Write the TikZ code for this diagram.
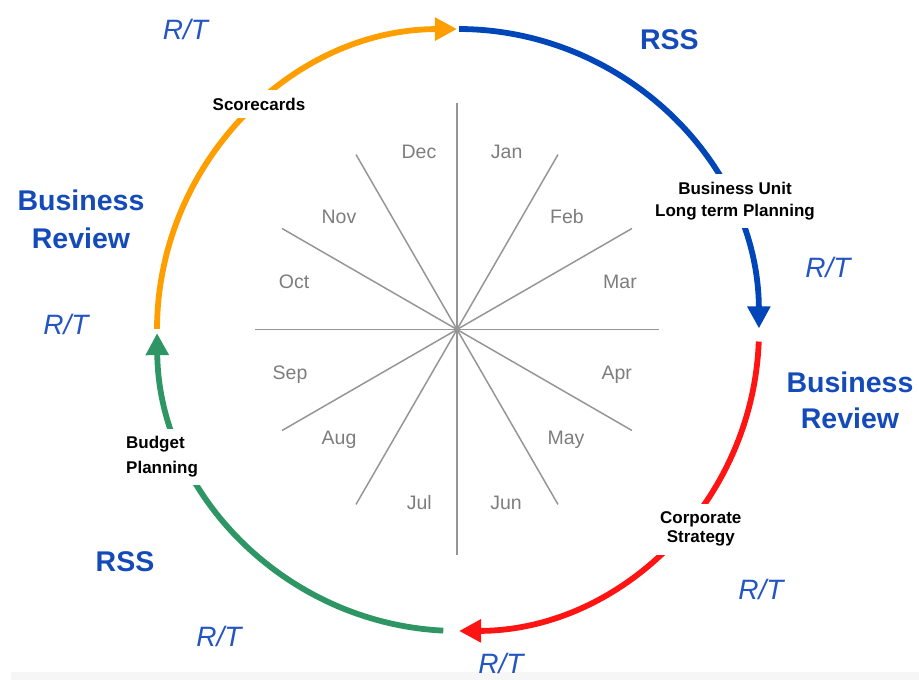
\documentclass[tikz,border=0pt]{standalone}
\usepackage{fontspec}
\setmainfont{Liberation Sans}
\usetikzlibrary{arrows.meta}
\definecolor{corange}{RGB}{255,158,0}
\definecolor{cblue}{RGB}{0,70,185}
\definecolor{cred}{RGB}{255,20,20}
\definecolor{cgreen}{RGB}{46,150,100}
\definecolor{tblue}{RGB}{20,75,185}
\definecolor{rtblue}{RGB}{35,85,195}
\definecolor{mgray}{RGB}{125,125,125}
\definecolor{sgray}{RGB}{150,150,150}
\definecolor{bandgray}{RGB}{246,246,246}
\begin{document}
\begin{tikzpicture}[x=1pt,y=1pt,
 cyc/.style={line width=5.8pt, -{Triangle[length=22pt,width=22pt]}},
 spoke/.style={draw=sgray, line width=1.5pt},
 month/.style={text=mgray, font=\fontsize{19.5}{22}\selectfont, inner sep=0pt, anchor=base},
 phase/.style={text=tblue, font=\fontsize{28.5}{37}\selectfont\bfseries, align=center, inner sep=0pt},
 rt/.style={text=rtblue, font=\fontsize{28}{30}\selectfont\itshape, inner sep=0pt, anchor=base},
 tasklabel/.style={fill=white, font=\fontsize{17}{21.7}\selectfont\bfseries, inner sep=8pt}
]
\useasboundingbox (0,0) rectangle (919,680);
\fill[bandgray] (10.5,0) rectangle (919,8);

% spokes
\coordinate (S) at (457,350.5);
\coordinate (C) at (458,350);
\draw[spoke] ([shift={(90:226)}]S) -- ([shift={(-90:226)}]S);
\foreach \a in {0,30,60,120,150}{
  \draw[spoke] ([shift={(\a:202)}]S) -- ([shift={(\a+180:202)}]S);
}

% months
\node[month] (jan) at (506.7,521) {Jan};
\node[month] (dec) at (419,521) {Dec};
\node[month] (feb) at (567,456) {Feb};
\node[month] (nov) at (339,456) {Nov};
\node[month] (mar) at (620,391.3) {Mar};
\node[month] (oct) at (294,391.3) {Oct};
\node[month] (apr) at (616.7,300.7) {Apr};
\node[month] (sep) at (290,300.7) {Sep};
\node[month] (may) at (566,235.7) {May};
\node[month] (aug) at (339,235.7) {Aug};
\node[month] (jun) at (506,170.7) {Jun};
\node[month] (jul) at (419.3,170.7) {Jul};

% cycle arcs
\draw[cyc, draw=corange] ([shift={(179.8:301)}]C) arc[start angle=179.8, end angle=90.2, radius=301];
\draw[cyc, draw=cblue] ([shift={(89.8:301)}]C) arc[start angle=89.8, end angle=0.3, radius=301];
\draw[cyc, draw=cred] ([shift={(-2.2:301)}]C) arc[start angle=-2.2, end angle=-89.8, radius=301];
\draw[cyc, draw=cgreen] ([shift={(-92.8:301)}]C) arc[start angle=-92.8, end angle=-179.4, radius=301];

% activity labels
\node[tasklabel] (score) at (259,576) {Scorecards};
\node[tasklabel, align=center] (bulp) at (735,479) {Business Unit\\Long term Planning};
\node[tasklabel, align=center, font=\fontsize{17}{19}\selectfont\bfseries] (corp) at (700.8,150.7) {Corporate\\Strategy};
\node[tasklabel, align=left, anchor=west, font=\fontsize{17}{25}\selectfont\bfseries] (budget) at (118,223) {Budget\\Planning};

% phases
\node[phase, anchor=base] (rss1) at (669.3,630) {RSS};
\node[phase, font=\fontsize{28.5}{38}\selectfont\bfseries] (br1) at (81,461) {Business\\Review};
\node[phase, font=\fontsize{28.5}{36}\selectfont\bfseries] (br2) at (850,280) {Business\\Review};
\node[phase, anchor=base] (rss2) at (125,108) {RSS};

% R/T
\node[rt] (rt1) at (185.5,640.7) {R/T};
\node[rt] (rt2) at (828,402) {R/T};
\node[rt] (rt3) at (66,345) {R/T};
\node[rt] (rt4) at (761,80) {R/T};
\node[rt] (rt5) at (219,33.3) {R/T};
\node[rt] (rt6) at (501,6.5) {R/T};
\end{tikzpicture}
\end{document}
